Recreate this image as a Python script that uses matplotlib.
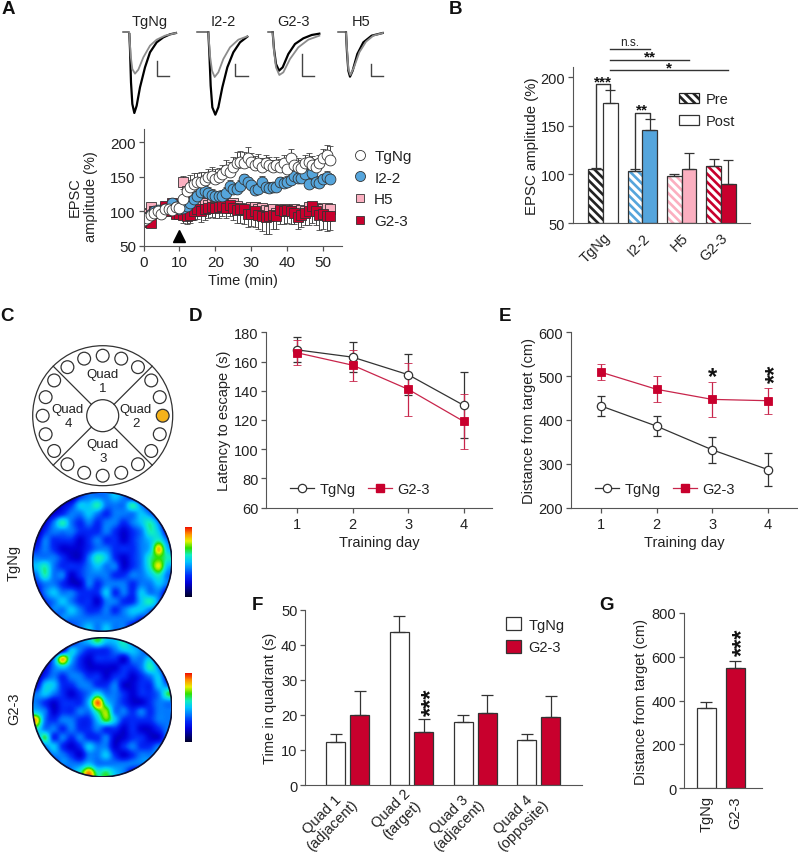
import numpy as np
import matplotlib
matplotlib.use('Agg')
import matplotlib.pyplot as plt
from matplotlib.colors import LinearSegmentedColormap
from matplotlib.lines import Line2D
from matplotlib.patches import Circle, Patch
from matplotlib.transforms import ScaledTranslation

plt.rcParams['font.family'] = ['Liberation Sans', 'DejaVu Sans']
plt.rcParams['font.size'] = 10.5
plt.rcParams['text.color'] = '#222222'
plt.rcParams['axes.labelcolor'] = '#222222'
plt.rcParams['xtick.labelcolor'] = '#222222'
plt.rcParams['ytick.labelcolor'] = '#222222'
plt.rcParams['hatch.linewidth'] = 1.9

W, H = 798, 853
GREY = '#555555'
DARK = '#333333'
RED = '#C8002D'
BLUE = '#55A5DC'
PINK = '#FBAFC0'

# panel A, EPSC amplitude per minute
minutes = list(range(53))
a_tgng = [88, 90, 95, 98, 101, 97, 103, 104, 102, 106, 105, 118, 130, 135, 140, 142, 143, 145, 150, 152,
          147, 150, 155, 160, 157, 165, 170, 172, 170, 178, 172, 168, 170, 165, 170, 168, 165, 168, 165,
          170, 162, 177, 168, 165, 163, 170, 172, 168, 165, 170, 178, 182, 175]
a_tgng_err = [6, 6, 7, 6, 5, 6, 5, 6, 6, 5, 5, 14, 16, 18, 16, 14, 14, 12, 12, 12, 14, 13, 12, 14, 14, 14,
              16, 15, 16, 15, 13, 13, 13, 12, 12, 11, 10, 11, 11, 12, 10, 13, 12, 12, 11, 12, 13, 12, 11,
              12, 13, 14, 20]
a_i22 = [88, 92, 97, 100, 102, 100, 104, 103, 112, 106, 104, 105, 108, 113, 118, 123, 128, 130, 127, 124,
         122, 122, 123, 127, 137, 133, 132, 137, 147, 142, 138, 131, 133, 143, 135, 134, 135, 135, 142,
         141, 143, 145, 152, 148, 148, 155, 140, 156, 143, 141, 147, 150, 147]
a_i22_err = [5, 5, 5, 5, 5, 5, 5, 5, 5, 5, 5, 6, 6, 7, 7, 7, 8, 8, 8, 8, 7, 7, 8, 8, 8, 8, 8, 8, 8, 8, 8,
             8, 8, 8, 8, 8, 8, 8, 8, 8, 8, 8, 8, 8, 8, 8, 8, 8, 8, 8, 8, 8, 8]
a_h5 = [98, 96, 106, 98, 100, 100, 105, 104, 108, 104, 100, 143, 130, 120, 115, 112, 115, 112, 110, 112,
        108, 110, 112, 110, 105, 112, 108, 105, 102, 104, 106, 106, 103, 105, 102, 100, 103, 98, 100,
        103, 100, 101, 103, 100, 102, 100, 106, 104, 105, 103, 103, 105, 104]
a_h5_err = [5, 5, 5, 4, 4, 4, 5, 5, 4, 4, 4, 8, 7, 7, 6, 6, 6, 5, 5, 5, 5, 5, 5, 5, 5, 5, 5, 5, 5, 5, 5, 5,
            5, 5, 5, 5, 5, 5, 5, 5, 5, 5, 5, 5, 5, 5, 5, 5, 5, 5, 5, 5, 5]
a_g23 = [85, 85, 84, 100, 100, 100, 108, 100, 112, 96, 97, 95, 94, 95, 100, 103, 100, 103, 105, 107, 105,
         106, 108, 105, 110, 105, 102, 104, 104, 97, 97, 100, 95, 94, 92, 93, 95, 93, 102, 100, 102, 100,
         98, 92, 95, 98, 100, 108, 100, 95, 97, 94, 93]
a_g23_err = [5, 5, 5, 5, 5, 5, 5, 6, 10, 6, 6, 12, 12, 12, 13, 14, 15, 15, 15, 15, 14, 15, 15, 15, 16, 18,
             18, 20, 22, 20, 18, 22, 20, 22, 24, 25, 20, 18, 20, 18, 18, 18, 16, 18, 18, 18, 20, 24, 20,
             22, 22, 22, 20]
a_labels = ['TgNg', 'I2-2', 'H5', 'G2-3']
trace_names = ['TgNg', 'I2-2', 'G2-3', 'H5']

# traces above panel A, read in pixels of a 3x crop at (100, 0)
trace_black = [
    ([88, 90, 93, 97, 103, 110, 120, 135, 150, 170, 190, 210, 228],
     [105, 150, 250, 315, 342, 320, 265, 205, 160, 130, 115, 106, 102]),
    ([325, 328, 332, 337, 346, 355, 367, 382, 400, 420, 442],
     [100, 160, 260, 325, 347, 325, 265, 205, 160, 130, 113]),
    ([518, 522, 528, 537, 548, 565, 585, 610, 635, 658],
     [100, 150, 195, 215, 205, 165, 135, 118, 108, 104]),
    ([738, 741, 745, 750, 758, 772, 790, 815, 848],
     [100, 160, 215, 233, 215, 165, 130, 110, 102]),
]
trace_grey = [
    ([88, 92, 97, 105, 115, 130, 150, 170, 195, 228],
     [105, 170, 210, 224, 212, 175, 140, 122, 110, 102]),
    ([325, 330, 336, 344, 355, 370, 390, 415, 442],
     [100, 170, 215, 234, 220, 180, 145, 122, 112]),
    ([518, 522, 528, 538, 550, 570, 595, 625, 658],
     [100, 155, 205, 228, 220, 180, 145, 122, 110]),
    ([738, 741, 745, 751, 762, 778, 798, 820, 848],
     [100, 150, 210, 228, 205, 160, 128, 110, 102]),
]
stub_x = [(70, 88), (292, 325), (503, 518), (715, 738)]
scale_x = [(172, 207), (404, 444), (606, 642), (812, 848)]
scale_top = [185, 195, 165, 195]
trace_label_x = [150, 370, 582, 782]

# panel B
b_groups = ['TgNg', 'I2-2', 'H5', 'G2-3']
b_pre = [105, 103.5, 98, 108.5]
b_pre_err = [2, 1.5, 2, 7]
b_post = [173, 146, 105, 90]
b_post_err = [14, 11, 17, 25]
b_colors = ['#222222', BLUE, PINK, RED]
b_post_colors = ['white', BLUE, PINK, RED]

# panel D
days = [1, 2, 3, 4]
d_tgng = [168, 163, 151, 130]
d_tgng_err = [8.5, 10.5, 14, 22.5]
d_g23 = [166, 157.5, 141, 119]
d_g23_err = [8.5, 10.5, 18, 18.5]

# panel E
e_tgng = [432, 386, 332, 287]
e_tgng_err = [22, 23, 30, 37]
e_g23 = [509, 470, 447, 444]
e_g23_err = [18, 30, 40, 30]

# panel F
f_labels = ['Quad 1\n(adjacent)', 'Quad 2\n(target)', 'Quad 3\n(adjacent)', 'Quad 4\n(opposite)']
f_tgng = [12.2, 43.6, 17.9, 12.7]
f_tgng_err = [2.3, 4.5, 2.2, 1.9]
f_g23 = [19.9, 15.2, 20.4, 19.3]
f_g23_err = [6.8, 3.5, 5.3, 6.2]

# panel G
g_labels = ['TgNg', 'G2-3']
g_vals = [365, 548]
g_err = [30, 32]

# occupancy maps of panel C, levels
heat_tgng = [
    [0, 0, 0, 0, 0, 2, 3, 3, 3, 4, 3, 1, 0, 0, 0, 0],
    [0, 0, 0, 1, 2, 4, 4, 5, 3, 3, 3, 5, 3, 1, 0, 0],
    [0, 0, 1, 2, 3, 3, 4, 3, 2, 3, 3, 3, 4, 3, 1, 0],
    [0, 1, 3, 5, 3, 2, 3, 2, 3, 3, 2, 3, 4, 5, 3, 0],
    [0, 2, 3, 3, 3, 2, 2, 2, 3, 2, 1, 2, 3, 5, 4, 1],
    [1, 3, 2, 2, 2, 1, 2, 3, 2, 2, 1, 2, 3, 4, 5, 3],
    [2, 3, 2, 1, 1, 1, 2, 3, 3, 2, 2, 2, 3, 4, 7.5, 4],
    [3, 3, 3, 2, 1, 1, 3, 5, 4, 2, 1, 2, 3, 5, 6, 5],
    [4, 5, 3, 2, 2, 2, 3, 4, 3, 3, 1, 2, 3, 5, 7, 4],
    [3, 5, 3, 3, 1, 2, 3, 3, 3, 2, 2, 3, 3, 4, 5, 3],
    [2, 3, 3, 2, 1, 1, 3, 2, 3, 3, 3, 2, 3, 3, 4, 3],
    [1, 3, 4, 3, 3, 2, 2, 2, 4, 2, 3, 2, 4, 3, 3, 1],
    [0, 2, 3, 4, 3, 2, 2, 1, 3, 3, 2, 2, 4, 5, 3, 0],
    [0, 1, 3, 3, 4, 3, 2, 2, 3, 2, 3, 4, 4, 3, 2, 0],
    [0, 0, 1, 3, 3, 3, 3, 3, 3, 3, 3, 3, 2, 2, 0, 0],
    [0, 0, 0, 0, 2, 3, 4, 3, 4, 3, 3, 1, 0, 0, 0, 0],
]
heat_g23 = [
    [0, 0, 0, 0, 1, 3, 4, 5.5, 4, 4, 5, 3, 1, 0, 0, 0],
    [0, 0, 0, 1, 4, 3, 2, 2, 2, 3, 4, 4, 3, 1, 0, 0],
    [0, 0, 3, 7.5, 4, 2, 1, 2, 2, 2, 1, 3, 3, 4, 1, 0],
    [0, 1, 3, 4, 3, 2, 1, 1, 1, 1, 2, 2, 3, 5, 3, 0],
    [0, 2, 3, 2, 3, 3, 2, 2, 1, 2, 2, 1, 2, 3, 4, 1],
    [1, 4, 4, 2, 2, 3, 3, 2, 2, 3, 1, 1, 2, 2, 4, 3],
    [3, 4, 3, 2, 1, 2, 3, 4.5, 3, 3, 2, 1, 2, 2, 3, 5.5],
    [3, 2, 1, 2, 2, 2, 4, 8.3, 4.5, 3, 2, 1, 1, 2, 3, 3],
    [4, 3, 1, 2, 2, 3, 3, 5.5, 6.5, 3, 3, 2, 3, 2, 3, 3],
    [7.5, 3, 2, 3, 3, 2, 2, 4, 6, 4, 2, 2, 2, 2, 3, 3],
    [5, 3, 3, 2, 3, 2, 2, 3, 2, 2, 1, 2, 1, 1, 2, 3],
    [3, 5.5, 2, 3, 2, 3, 2, 2, 3, 1, 1, 2, 2, 1, 1, 3],
    [0, 3, 4, 2, 1, 2, 4, 3, 3, 1, 2, 3, 2, 2, 3, 2],
    [0, 1, 3, 3, 2, 1, 3, 3, 4, 2, 1, 2, 3, 3, 3, 0],
    [0, 0, 1, 3, 3, 3, 4, 3, 3, 3, 3, 3, 3, 3, 0, 0],
    [0, 0, 0, 0, 3, 5, 8, 5, 5.5, 4, 3, 1, 0, 0, 0, 0],
]
heat_colors = ['#000028', '#000080', '#0000d8', '#0028f8', '#0078ff', '#00c4ff',
               '#10eec0', '#30e000', '#e8f000', '#ff9000', '#f01000']


def box(l, t, r, b):
    return fig.add_axes([l / W, 1 - b / H, (r - l) / W, (b - t) / H])


def style(ax, xticks=True):
    ax.spines['top'].set_visible(False)
    ax.spines['right'].set_visible(False)
    ax.spines['left'].set_color(GREY)
    ax.spines['bottom'].set_color(GREY)
    ax.tick_params(axis='both', color=GREY, length=3.5, width=0.9, pad=2)
    if not xticks:
        ax.tick_params(axis='x', length=0, pad=5)
    ax.patch.set_alpha(0)


def stars(ax, x, y, text, size=11):
    # a row of stars, the glyph sits high in the text line so shift it down
    ax.annotate(text, (x, y), xytext=(0, -0.42 * size), textcoords='offset points', ha='center', va='baseline',
                fontsize=size, fontweight='bold', annotation_clip=False, color='#111111')


def stars_up(ax, x, y, text, size=17):
    # same but turned on its side, stacked upward
    ax.annotate(text, (x, y), xytext=(0.32 * size, 0), textcoords='offset points', ha='center', va='center',
                rotation=90, fontsize=size, fontweight='bold', annotation_clip=False, color='#111111')


fig = plt.figure(figsize=(W / 100, H / 100), dpi=100)
ov = fig.add_axes([0, 0, 1, 1], zorder=5)
ov.set_xlim(0, W)
ov.set_ylim(H, 0)
ov.axis('off')

for letter, x, y in [('A', 8, 9), ('B', 455, 9), ('C', 7, 316), ('D', 195, 316), ('E', 505, 316),
                     ('F', 257, 605), ('G', 607, 605)]:
    ov.text(x, y, letter, fontsize=13.5, fontweight='bold', ha='center', va='center', color='#111111')

# traces
for i in range(4):
    bx, by = trace_black[i]
    gx, gy = trace_grey[i]
    ov.plot(100 + np.array(bx) / 3, np.array(by) / 3, color='black', lw=1.6)
    ov.plot(100 + np.array(gx) / 3, np.array(gy) / 3, color='#8c8c8c', lw=1.3)
    ov.plot(100 + np.array(stub_x[i]) / 3, [98 / 3, 98 / 3], color='#555555', lw=1.1)
    x0, x1 = scale_x[i]
    ov.plot([100 + x0 / 3, 100 + x0 / 3, 100 + x1 / 3], [scale_top[i] / 3, 230 / 3, 230 / 3], color='#444444', lw=1)
    ov.text(100 + trace_label_x[i] / 3, 22, trace_names[i], ha='center', va='center', fontsize=10.5)

# A
ax = box(143.5, 130, 341.7, 247)
style(ax)
ax.set_xlim(0, 55.2)
ax.set_ylim(50, 219.5)
for vals, err, mark, col, side, ms in [(a_h5, a_h5_err, 's', PINK, 'up', 7),
                                       (a_g23, a_g23_err, 's', RED, 'down', 7),
                                       (a_i22, a_i22_err, 'o', BLUE, 'up', 7.8),
                                       (a_tgng, a_tgng_err, 'o', 'white', 'up', 7.8)]:
    zero = [0] * len(err)
    yerr = [zero, err] if side == 'up' else [err, zero]
    ax.errorbar(minutes, vals, yerr=yerr, fmt=mark, ms=ms, mfc=col, mec=DARK, mew=0.6, ecolor='#444444',
                elinewidth=0.7, capsize=2.5, capthick=0.7)
ax.plot([10], [64], marker='^', ms=8.5, color='black', ls='none')
ax.set_xticks([0, 10, 20, 30, 40, 50])
ax.set_yticks([50, 100, 150, 200])
ax.tick_params(axis='both', labelsize=11)
ax.tick_params(axis='x', pad=3)
ax.set_xlabel('Time (min)', labelpad=3)
ov.text(83, 197, 'EPSC\namplitude (%)', rotation=90, ha='center', va='center', linespacing=1.2)
handles = [Line2D([], [], ls='none', marker='o', ms=7.2, mfc='white', mec=DARK, mew=0.6),
           Line2D([], [], ls='none', marker='o', ms=7.2, mfc=BLUE, mec=DARK, mew=0.6),
           Line2D([], [], ls='none', marker='s', ms=6.2, mfc=PINK, mec=DARK, mew=0.6),
           Line2D([], [], ls='none', marker='s', ms=6.2, mfc=RED, mec=DARK, mew=0.6)]
leg_a = ov.legend(handles, a_labels, loc='upper left', bbox_to_anchor=(352, 150), bbox_transform=ov.transData,
                  frameon=False, borderpad=0, borderaxespad=0, handlelength=1.05, handletextpad=0.4, labelspacing=0.5,
                  fontsize=11)
ov.add_artist(leg_a)

# B
ax = box(572.7, 68, 750, 224)
style(ax, xticks=False)
ax.set_xlim(-0.77, 3.74)
ax.set_ylim(50, 210.3)
bw = 0.374
for i in range(4):
    ax.bar(i - bw / 2, b_pre[i] - 50, bw, bottom=50, facecolor='white', edgecolor=b_colors[i], hatch='\\\\\\\\', lw=0)
    ax.bar(i - bw / 2, b_pre[i] - 50, bw, bottom=50, fill=False, edgecolor=DARK, lw=0.9)
    ax.bar(i + bw / 2, b_post[i] - 50, bw, bottom=50, facecolor=b_post_colors[i], edgecolor=DARK, lw=0.9)
    ax.errorbar(i - bw / 2, b_pre[i], yerr=[[0], [b_pre_err[i]]], color=DARK, elinewidth=0.9, capsize=3.5, capthick=0.9)
    ax.errorbar(i + bw / 2, b_post[i], yerr=[[0], [b_post_err[i]]], color=DARK, elinewidth=0.9, capsize=3.5, capthick=0.9)
ax.set_xticks(range(4))
ax.set_xticklabels(b_groups, rotation=45, ha='right', rotation_mode='anchor')
ax.set_yticks([50, 100, 150, 200])
ax.set_ylabel('EPSC amplitude (%)', labelpad=1, fontsize=10.8)
post0 = bw / 2
for end, y, lab, star_y in [(1 + post0, 229, 'n.s.', 0), (2 + post0, 218, '**', 223.5), (3 + post0, 207, '*', 212.5)]:
    ax.plot([post0, end], [y, y], color=DARK, lw=1, clip_on=False)
    mid = (post0 + end) / 2
    if lab == 'n.s.':
        ax.text(mid, y + 0.5, lab, ha='center', va='bottom', fontsize=8.5)
    else:
        stars(ax, mid, star_y, lab)
ax.plot([-bw / 2, -bw / 2, bw / 2, bw / 2], [107, 193, 193, 187], color=DARK, lw=1, clip_on=False)
ax.plot([1 - bw / 2, 1 - bw / 2, 1 + bw / 2, 1 + bw / 2], [105, 163, 163, 157], color=DARK, lw=1)
stars(ax, 0, 198, '***')
stars(ax, 1, 169, '**')
handles = [Patch(facecolor='white', edgecolor='#222222', hatch='\\\\\\\\', lw=0.9),
           Patch(facecolor='white', edgecolor=DARK, lw=0.9)]
leg_b = ov.legend(handles, ['Pre', 'Post'], loc='upper left', bbox_to_anchor=(679, 93), bbox_transform=ov.transData,
                  frameon=False, borderpad=0, borderaxespad=0, handlelength=1.37, handleheight=0.7, handletextpad=0.45,
                  labelspacing=0.55, fontsize=10.5)

# C, maze diagram
cx, cy = 102.7, 416.7
ov.add_patch(Circle((cx, cy), 70, fc='white', ec=DARK, lw=0.9))
ov.add_patch(Circle((cx, cy), 16, fc='white', ec=DARK, lw=0.9))
for deg in [45, 135, 225, 315]:
    a = np.deg2rad(deg)
    ov.plot([cx + 16 * np.cos(a), cx + 70 * np.cos(a)], [cy + 16 * np.sin(a), cy + 70 * np.sin(a)], color=DARK, lw=0.9)
for deg in range(0, 360, 18):
    a = np.deg2rad(deg)
    col = '#F5B21A' if deg == 0 else 'white'
    ov.add_patch(Circle((cx + 60 * np.cos(a), cy + 60 * np.sin(a)), 6.4, fc=col, ec=DARK, lw=0.9))
for num, qx, qy in [(1, 102.7, 382), (2, 136, 417), (3, 102.7, 452), (4, 68, 417)]:
    ov.text(qx, qy, 'Quad\n%d' % num, ha='center', va='center', fontsize=9.5, linespacing=1.15)

# C, heat maps
cmap = LinearSegmentedColormap.from_list('maze', heat_colors)
for grid, my, cb_t, cb_b, name in [(heat_tgng, 562.7, 528, 597.7, 'TgNg'), (heat_g23, 708.3, 674, 743.3, 'G2-3')]:
    hax = box(32.3, my - 70, 172.3, my + 70)
    hax.axis('off')
    im = hax.imshow(grid, cmap=cmap, vmin=-1, vmax=9, interpolation='catrom', extent=(0, 1, 0, 1), aspect='auto')
    clip = Circle((0.5, 0.5), 0.5, transform=hax.transAxes, fc='none', ec='none')
    hax.add_patch(clip)
    im.set_clip_path(clip)
    hax.add_patch(Circle((0.5, 0.5), 0.497, transform=hax.transAxes, fc='none', ec='#101030', lw=1.2))
    cax = box(185, cb_t, 192.3, cb_b)
    cb = fig.colorbar(im, cax=cax)
    cb.set_ticks([])
    cb.outline.set_visible(False)
    ov.text(14, my + 0.5, name, rotation=90, ha='center', va='center')

# D and E
for l, r, x1, tg, tg_e, g, g_e, ylim, yticks, ylab in [
        (266, 492.3, 297, d_tgng, d_tgng_err, d_g23, d_g23_err, (60, 180), range(60, 181, 20), 'Latency to escape (s)'),
        (571, 796.7, 601, e_tgng, e_tgng_err, e_g23, e_g23_err, (200, 600), range(200, 601, 100), 'Distance from target (cm)')]:
    ax = box(l, 333.3, r, 508.7)
    style(ax)
    ax.set_xlim(1 + (l - x1) / 55.6, 1 + (r - x1) / 55.6)
    ax.set_ylim(*ylim)
    ax.errorbar(days, tg, yerr=tg_e, color=DARK, lw=0.9, elinewidth=0.9, capsize=3, capthick=0.9, marker='o', ms=6,
                mfc='white', mec=DARK, mew=0.9, label='TgNg')
    ax.errorbar(days, g, yerr=g_e, color='#C8254B', lw=0.9, elinewidth=0.9, capsize=3, capthick=0.9, marker='s', ms=6,
                mfc=RED, mec=RED, mew=0.6, label='G2-3')
    ax.set_xticks(days)
    ax.set_yticks(list(yticks))
    ax.tick_params(axis='x', pad=3)
    ax.set_xlabel('Training day', labelpad=3)
    ax.set_ylabel(ylab, labelpad=2)
    handles, labels = ax.get_legend_handles_labels()
    ax.legend([Line2D([], [], color=DARK, lw=0.9, marker='o', ms=6, mfc='white', mec=DARK, mew=0.9),
               Line2D([], [], color='#C8254B', lw=0.9, marker='s', ms=6, mfc=RED, mec=RED)], labels,
              loc='lower left', bbox_to_anchor=(l + 24, 497), bbox_transform=ov.transData, ncol=2, frameon=False,
              borderpad=0, borderaxespad=0, handlelength=1.65, handletextpad=0.35, columnspacing=0.9)
    if ylim[0] == 200:
        stars(ax, 3, 508, '*', 17)
        stars_up(ax, 4, 508.5, '**')

# F
ax = box(305, 610.7, 581.7, 786)
style(ax, xticks=False)
ax.set_xlim(-0.672, 3.672)
ax.set_ylim(0, 50)
x = np.arange(4)
off, bw = 0.1885, 0.298
ax.bar(x - off, f_tgng, bw, facecolor='white', edgecolor=DARK, lw=0.9, label='TgNg')
ax.bar(x + off, f_g23, bw, facecolor=RED, edgecolor=DARK, lw=0.9, label='G2-3')
ax.errorbar(x - off, f_tgng, yerr=[[0] * 4, f_tgng_err], fmt='none', ecolor=DARK, elinewidth=0.9, capsize=4, capthick=0.9)
ax.errorbar(x + off, f_g23, yerr=[[0] * 4, f_g23_err], fmt='none', ecolor=DARK, elinewidth=0.9, capsize=4, capthick=0.9)
ax.set_xticks(x)
ticklabs = ax.set_xticklabels(f_labels, rotation=45, ha='right', ma='center', rotation_mode='anchor', linespacing=1.1)
ax.tick_params(axis='x', pad=1)
for t in ticklabs:
    t.set_transform(t.get_transform() + ScaledTranslation(-8 / 100, 0, fig.dpi_scale_trans))
ax.set_yticks([0, 10, 20, 30, 40, 50])
ax.set_ylabel('Time in quadrant (s)', labelpad=3)
stars_up(ax, 1 + off, 24, '***')
ax.legend(loc='upper left', bbox_to_anchor=(506, 618), bbox_transform=ov.transData, frameon=False, borderpad=0,
          borderaxespad=0, handlelength=1.05, handleheight=1, handletextpad=0.5, labelspacing=0.55, fontsize=10.5)

# G
ax = box(684, 614, 761.7, 789.3)
style(ax, xticks=False)
ax.set_xlim(-0.766, 1.914)
ax.set_ylim(0, 800)
ax.bar([0, 1], g_vals, 0.655, color=['white', RED], edgecolor=DARK, lw=0.9)
ax.errorbar([0, 1], g_vals, yerr=[[0, 0], g_err], fmt='none', ecolor=DARK, elinewidth=0.9, capsize=4, capthick=0.9)
ax.set_xticks([0, 1])
ax.set_xticklabels(g_labels, rotation=90)
ax.set_yticks([0, 200, 400, 600, 800])
ax.set_ylabel('Distance from target (cm)', labelpad=3)
stars_up(ax, 1, 673, '***')

fig.savefig('out.png', dpi=100)
